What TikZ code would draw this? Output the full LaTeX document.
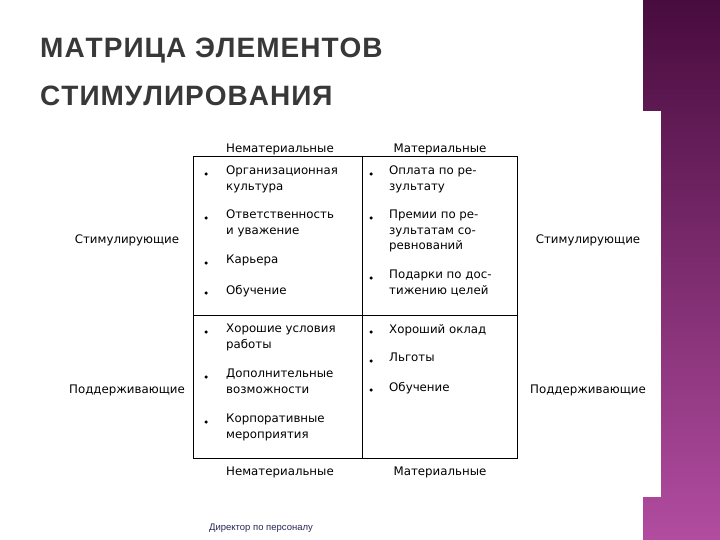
\documentclass[tikz,border=0pt]{standalone}
\usepackage{fontspec}
\setmainfont{DejaVu Sans}
\newfontfamily\ttlfont{Liberation Sans}
\newcommand{\kk}{\kern1pt}
\begin{document}
\begin{tikzpicture}[x=1pt,y=-1pt,
  txt/.style={font=\fontsize{11.8}{15.5}\selectfont,inner sep=0pt,anchor=north west,align=left,text=black},
  hdr/.style={font=\fontsize{11.8}{15}\selectfont,inner sep=0pt,text=black},
  bul/.style={circle,fill=black,inner sep=0pt,minimum size=3.5pt},
  ttl/.style={font=\ttlfont\fontsize{28}{30}\bfseries\selectfont,text=black!78,inner sep=0pt,anchor=west}]
\useasboundingbox (0,0) rectangle (720,540);
\fill[white] (0,0) rectangle (720,540);
\shade[top color={rgb,255:red,72;green,12;blue,62},bottom color={rgb,255:red,178;green,76;blue,160}] (643,0) rectangle (720,540);
\fill[white] (600,111) rectangle (661,497);
\node[ttl] (t1) at (40,51) {М\kk А\kk Т\kk Р\kk И\kk Ц\kk А\kk\ Э\kk Л\kk Е\kk М\kk Е\kk Н\kk Т\kk О\kk В};
\node[ttl] (t2) at (40,96) {С\kk Т\kk И\kk М\kk У\kk Л\kk И\kk Р\kk О\kk В\kk А\kk Н\kk И\kk Я};
\draw[line width=1pt] (193,157) rectangle (517,458);
\draw[line width=1pt] (362,157) -- (362,458);
\draw[line width=1pt] (193,315) -- (517,315);
\node[hdr] (h1) at (280,149) {Нематериальные};
\node[hdr] (h2) at (440,149) {Материальные};
\node[hdr] (h3) at (280,472) {Нематериальные};
\node[hdr] (h4) at (440,472) {Материальные};
\node[hdr] (r1) at (127,240) {Стимулирующие};
\node[hdr] (r2) at (127,390) {Поддерживающие};
\node[hdr] (r3) at (588,240) {Стимулирующие};
\node[hdr] (r4) at (588,390) {Поддерживающие};
% top left
\node[bul] (b1) at (206,174) {}; \node[txt] (a1) at (226,166) {Организационная\\культура};
\node[bul] (b2) at (206,218) {}; \node[txt] (a2) at (226,210) {Ответственность\\и уважение};
\node[bul] (b3) at (206,263) {}; \node[txt] (a3) at (226,255) {Карьера};
\node[bul] (b4) at (206,293) {}; \node[txt] (a4) at (226,285) {Обучение};
% top right
\node[bul] (c1) at (371,174) {}; \node[txt] (d1) at (389,166) {Оплата по ре-\\зультату};
\node[bul] (c2) at (371,218) {}; \node[txt] (d2) at (389,210) {Премии по ре-\\зультатам со-\\ревнований};
\node[bul] (c3) at (371,278) {}; \node[txt] (d3) at (389,270) {Подарки по дос-\\тижению целей};
% bottom left
\node[bul] (b5) at (206,332) {}; \node[txt] (a5) at (226,324) {Хорошие условия\\работы};
\node[bul] (b6) at (206,377) {}; \node[txt] (a6) at (226,369) {Дополнительные\\возможности};
\node[bul] (b7) at (206,422) {}; \node[txt] (a7) at (226,414) {Корпоративные\\мероприятия};
% bottom right
\node[bul] (c4) at (371,332) {}; \node[txt] (d4) at (389,324) {Хороший оклад};
\node[bul] (c5) at (371,361) {}; \node[txt] (d5) at (389,353) {Льготы};
\node[bul] (c6) at (371,390) {}; \node[txt] (d6) at (389,382) {Обучение};
\node[font=\ttlfont\fontsize{9.5}{10}\selectfont,text={rgb,255:red,40;green,40;blue,90},inner sep=0pt] (f) at (261,528) {Директор по персоналу};
\end{tikzpicture}
\end{document}
